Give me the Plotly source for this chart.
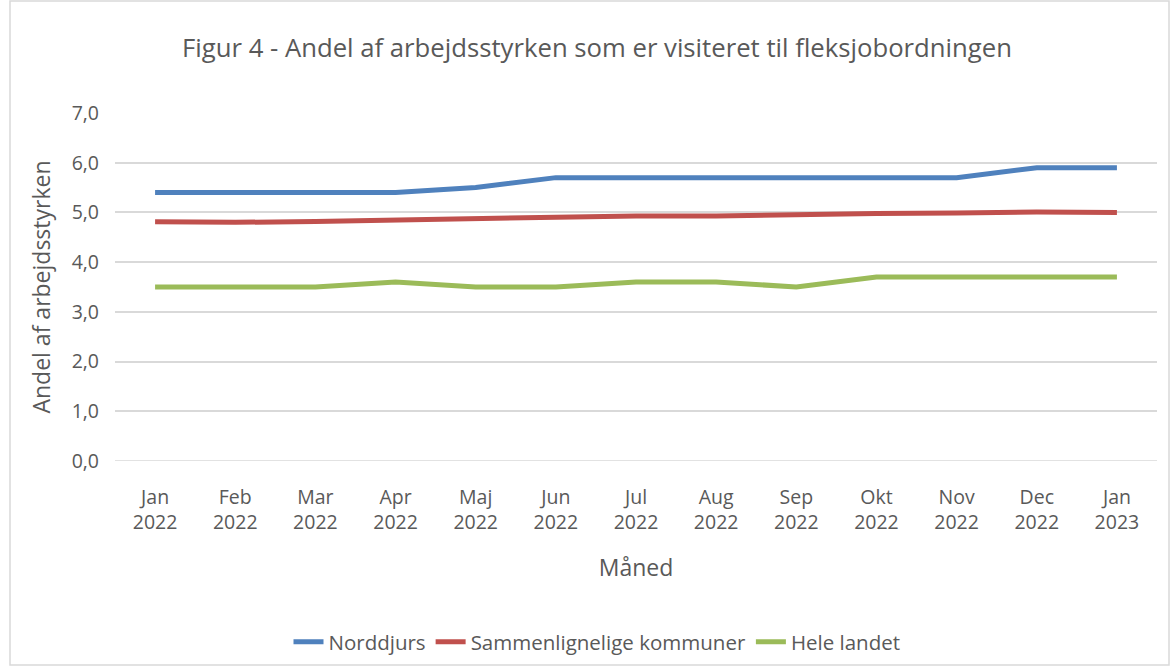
import plotly.graph_objects as go

months = ["Jan<br>2022", "Feb<br>2022", "Mar<br>2022", "Apr<br>2022", "Maj<br>2022", "Jun<br>2022",
          "Jul<br>2022", "Aug<br>2022", "Sep<br>2022", "Okt<br>2022", "Nov<br>2022", "Dec<br>2022", "Jan<br>2023"]
norddjurs = [5.4, 5.4, 5.4, 5.4, 5.5, 5.7, 5.7, 5.7, 5.7, 5.7, 5.7, 5.9, 5.9]
sammenlignelige = [4.81, 4.80, 4.82, 4.85, 4.87, 4.89, 4.93, 4.93, 4.96, 4.98, 4.99, 5.01, 5.00]
hele_landet = [3.5, 3.5, 3.5, 3.6, 3.5, 3.5, 3.6, 3.6, 3.5, 3.7, 3.7, 3.7, 3.7]
y_ticks = [0, 1, 2, 3, 4, 5, 6, 7]
y_labels = ["0,0", "1,0", "2,0", "3,0", "4,0", "5,0", "6,0", "7,0"]

W, H = 1170, 666
L, R, T, B = 115, 13, 113, 205
pw = W - L - R
ph = H - T - B

def px(x):
    return (x - L) / pw

def py(y):
    return (H - B - y) / ph

font = "Open Sans"
gray = "#595959"

fig = go.Figure()
for name, vals, col in [("Norddjurs", norddjurs, "#4f81bd"),
                        ("Sammenlignelige kommuner", sammenlignelige, "#c0504d"),
                        ("Hele landet", hele_landet, "#9bbb59")]:
    fig.add_trace(go.Scatter(x=months, y=vals, mode="lines", name=name,
                             line=dict(color=col, width=5)))

fig.update_layout(
    width=W, height=H,
    margin=dict(l=L, r=R, t=T, b=B, autoexpand=False),
    paper_bgcolor="white", plot_bgcolor="white",
    font=dict(family=font, color=gray, size=20),
    title=dict(text="Figur 4 - Andel af arbejdsstyrken som er visiteret til fleksjobordningen",
               x=597 / W, xanchor="center", xref="container", yref="container",
               y=1 - 48 / H, yanchor="middle",
               font=dict(size=25.7, color=gray, family=font)),
    xaxis=dict(type="category", range=[-0.5, 12.5], showgrid=False, zeroline=False,
               showline=False, ticks="", ticklabelstandoff=22, automargin=False,
               tickfont=dict(size=19.5, color=gray),
               title=dict(text="Måned", font=dict(size=23, color=gray), standoff=26)),
    yaxis=dict(range=[0, 7], tickvals=y_ticks, ticktext=y_labels, showgrid=True,
               gridcolor="#d9d9d9", gridwidth=1.5, zeroline=False, showline=False,
               ticks="", ticklabelstandoff=15, automargin=False,
               tickfont=dict(size=19.5, color=gray),
               title=dict(text="Andel af arbejdsstyrken", font=dict(size=23, color=gray), standoff=14)),
    legend=dict(orientation="h", x=597 / W, xanchor="center", xref="container", yref="container",
                y=1 - 642 / H, yanchor="middle", font=dict(size=20.5, color=gray)),
    shapes=[dict(type="rect", xref="paper", yref="paper", x0=px(10), x1=px(1169),
                 y0=py(665), y1=py(1), line=dict(color="#d9d9d9", width=1.5))],
)
fig.add_shape(type="line", xref="paper", yref="y", x0=0, x1=1, y0=0, y1=0,
              line=dict(color="#d9d9d9", width=1.5))

fig.write_html("out.html", config={"displayModeBar": False},
               post_script="document.body.style.margin='0';document.body.style.overflow='hidden';")
